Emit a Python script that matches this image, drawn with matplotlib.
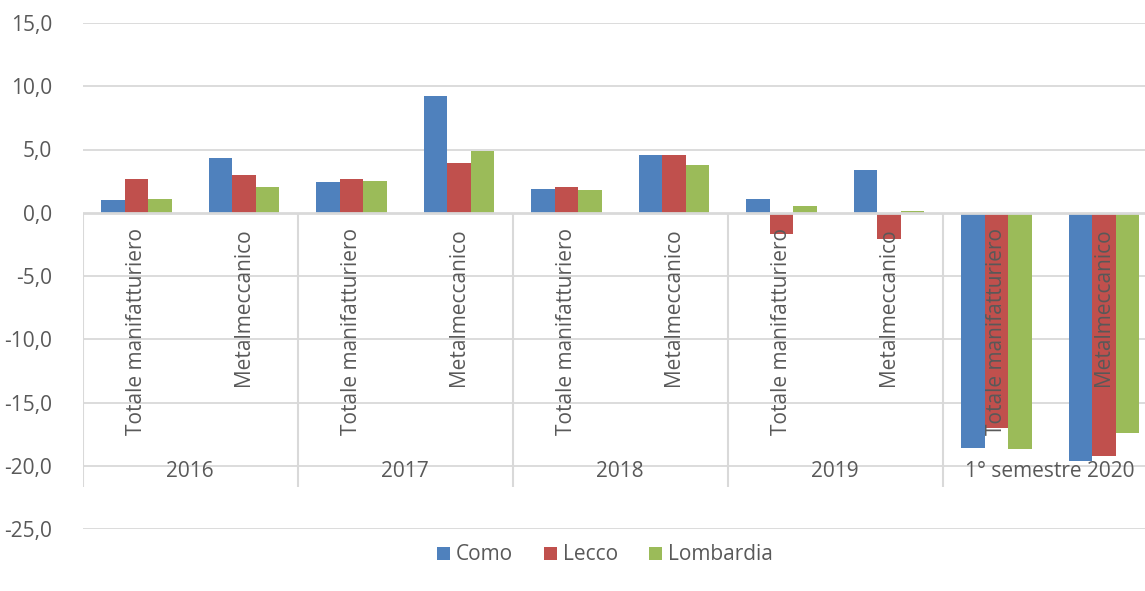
import matplotlib.pyplot as plt
import numpy as np

# Data
years = ["2016", "2017", "2018", "2019", "1° semestre 2020"]
sectors = ["Totale manifatturiero", "Metalmeccanico"]
series_names = ["Como", "Lecco", "Lombardia"]
como = [1.0, 4.3, 2.4, 9.2, 1.9, 4.6, 1.1, 3.4, -18.6, -19.6]
lecco = [2.7, 3.0, 2.7, 3.9, 2.0, 4.6, -1.7, -2.1, -17.0, -19.2]
lombardia = [1.1, 2.0, 2.5, 4.9, 1.8, 3.8, 0.5, 0.1, -18.7, -17.4]
yticks = [15, 10, 5, 0, -5, -10, -15, -20, -25]

colors = ["#4F81BD", "#C0504D", "#9BBB59"]
grid_c = "#D9D9D9"
text_c = "#595959"
fs = 15

plt.rcParams['font.family'] = ['Open Sans', 'DejaVu Sans']

fig = plt.figure(figsize=(11.45, 5.91), dpi=100)
# plot area runs a little past the right edge of the picture
ax = fig.add_axes([82.7 / 1145, 1 - 529 / 591, 1075 / 1145, (529 - 23) / 591])

n = len(como)
x = np.arange(n)
w = 0.218
for i, (vals, name) in enumerate(zip([como, lecco, lombardia], series_names)):
    ax.bar(x + (i - 1) * w, vals, width=w, color=colors[i], label=name, zorder=2)

ax.set_xlim(-0.5, n - 0.5)
ax.set_ylim(-25, 15)
ax.set_yticks(yticks)
ax.set_yticklabels([f"{v:.1f}".replace(".", ",") for v in yticks])
ax.tick_params(axis='y', length=0, pad=22, labelsize=fs, labelcolor=text_c)
ax.set_xticks([])
for s in ax.spines.values():
    s.set_visible(False)

# horizontal gridlines
for v in yticks:
    if v != 0:
        ax.axhline(v, color=grid_c, lw=1.3, zorder=1)
ax.axhline(0, color=grid_c, lw=2, zorder=3)

# multi-level category axis
for b in range(len(years)):
    ax.vlines(b * 2 - 0.5, -21.7, 0, color=grid_c, lw=1.5, zorder=3)
for k in range(n):
    ax.text(k, -1.2, sectors[k % 2], rotation=90, ha='center', va='top',
            fontsize=fs, color=text_c, zorder=4)
for b, yr in enumerate(years):
    ax.text(b * 2 + 0.5, -20.45, yr, ha='center', va='center',
            fontsize=fs, color=text_c, zorder=4)

fig.legend(loc='center', bbox_to_anchor=(605 / 1145, 1 - 555 / 591), ncol=3,
           frameon=False, fontsize=fs, labelcolor=text_c, handlelength=0.6,
           handleheight=0.6, handletextpad=0.3, columnspacing=1.5)

fig.savefig("out.png", dpi=100)
